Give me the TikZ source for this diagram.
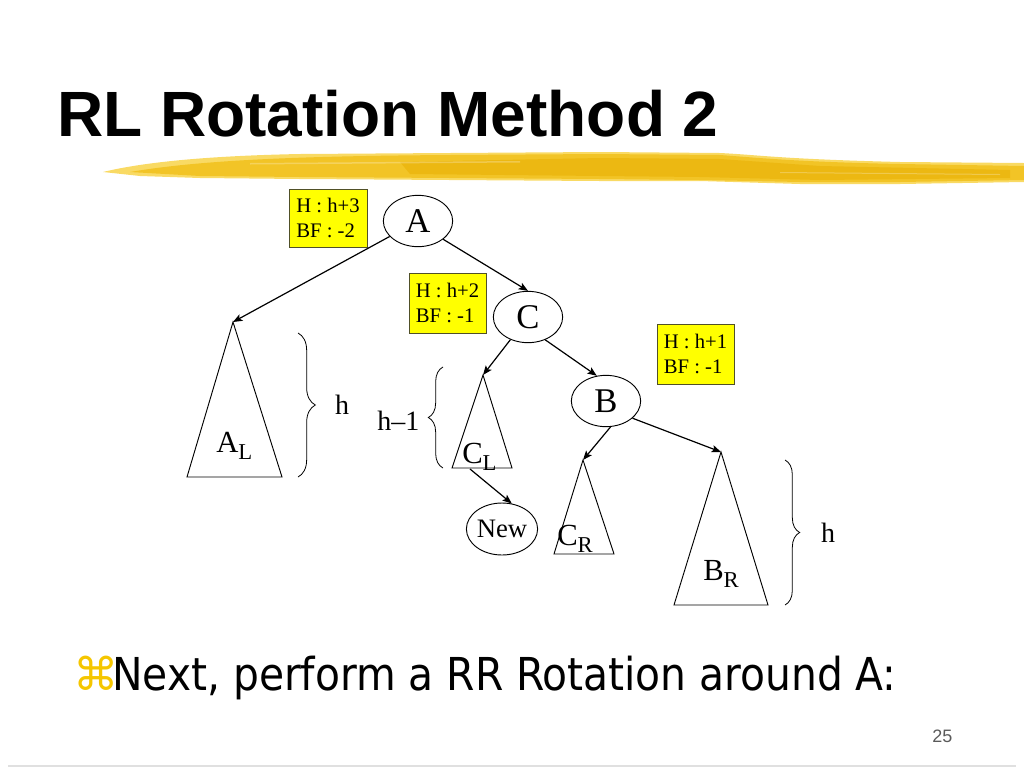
\documentclass[tikz,border=0pt]{standalone}
\usepackage{fontspec}
\setmainfont{Liberation Serif}
\newfontfamily\titlefont{Liberation Sans}
\newfontfamily\bodyfont{DejaVu Sans Condensed}
\newfontfamily\symfont{DejaVu Sans}
\usetikzlibrary{shapes.geometric,arrows.meta,decorations.pathreplacing}
\definecolor{boxyellow}{RGB}{255,255,0}
\definecolor{boxline}{RGB}{80,80,40}
\definecolor{brushA}{RGB}{242,196,38}
\definecolor{brushB}{RGB}{249,218,100}
\definecolor{brushC}{RGB}{236,184,18}
\definecolor{cmdcol}{RGB}{245,198,0}
\definecolor{pagegray}{RGB}{90,90,90}
\newcommand{\tsub}[2]{#1\raisebox{-5.5pt}{\fontsize{17}{20}\selectfont #2}}
\tikzset{
  treenode/.style={ellipse,draw,line width=0.7pt,inner sep=0pt,minimum width=52pt,minimum height=38.5pt,font=\fontsize{26}{30}\selectfont},
  infobox/.style={rectangle,draw=boxline,fill=boxyellow,line width=0.6pt,align=left,inner sep=0pt,font=\fontsize{15.5}{18.5}\selectfont},
  subtree/.style={draw,line width=0.7pt,line join=miter},
  edge/.style={draw,line width=0.9pt,-{Stealth[length=7pt,width=5.5pt,inset=1.5pt]}},
  tlabel/.style={anchor=base west,inner sep=0pt,font=\fontsize{23}{26}\selectfont},
  hlabel/.style={inner sep=0pt,font=\fontsize{21}{24}\selectfont},
  bracestyle/.style={draw,line width=0.6pt,decorate},
}
\begin{document}
\begin{tikzpicture}[x=0.75pt,y=-0.75pt]
\useasboundingbox (0,0) rectangle (1024,768);
% brush stroke
\fill[brushB] (103,172) .. controls (140,163) and (200,156) .. (300,154) -- (450,153) -- (600,152) -- (720,153) .. controls (760,155) and (780,159) .. (900,162) -- (1024,163) -- (1024,182) -- (900,184) -- (800,184) -- (700,181) -- (600,181) -- (450,180) -- (300,179) -- (200,178) -- (140,176) -- cycle;
\fill[brushA] (130,172) .. controls (200,160) and (300,156) .. (450,155) -- (600,154) -- (720,155) .. controls (760,158) and (800,162) .. (900,164) -- (1024,166) -- (1024,180) -- (900,182) -- (800,182) -- (700,180) -- (600,179) -- (450,178) -- (300,177) -- (200,176) -- cycle;
\fill[brushC] (400,162) -- (600,158) -- (720,159) -- (820,166) -- (1010,170) -- (1010,178) -- (820,180) -- (700,177) -- (600,176) -- (410,174) -- cycle;
\fill[white,opacity=0.25] (250,163) -- (520,161) -- (520,162.5) -- (250,164.5) -- cycle;
\fill[white,opacity=0.25] (780,172) -- (1000,174) -- (1000,175) -- (780,173) -- cycle;
% title
\node[anchor=base west,inner sep=0pt] (title) at (57,136) {\titlefont\bfseries\fontsize{48}{56}\selectfont RL Rotation Method 2};
% info boxes
\node[infobox,minimum width=58.5pt,minimum height=43.5pt] (box1) at (328,218) {H : h+3\\BF : -2};
\node[infobox,minimum width=57.75pt,minimum height=45pt] (box2) at (447.5,303) {H : h+2\\BF : -1};
\node[infobox,minimum width=57.75pt,minimum height=45pt] (box3) at (695.5,354) {H : h+1\\BF : -1};
% tree nodes
\node[treenode] (A) at (418,221) {A};
\node[treenode] (C) at (528,317) {C};
\node[treenode] (B) at (606,401) {B};
\node[treenode,minimum width=51pt,minimum height=39pt,font=\fontsize{20}{24}\selectfont] (New) at (502,529) {New};
% subtrees
\coordinate (ALtop) at (233,322);
\coordinate (CLtop) at (483,375);
\coordinate (CLbot) at (470,469);
\coordinate (CRtop) at (583,460);
\coordinate (BRtop) at (721,452);
\path[subtree] (ALtop) -- (282,477) -- (187,477) -- cycle;
\path[subtree] (CLtop) -- (512,468) -- (452,468) -- cycle;
\path[subtree] (CRtop) -- (614,554) -- (554,554) -- cycle;
\path[subtree] (BRtop) -- (768,605) -- (674,605) -- cycle;
\node[tlabel] (AL) at (216,452) {\tsub{A}{L}};
\node[tlabel] (CL) at (462,463) {\tsub{C}{L}};
\node[tlabel] (CR) at (557,545) {\tsub{C}{R}};
\node[tlabel] (BR) at (703,580) {\tsub{B}{R}};
% edges
\path[edge] (A) -- (ALtop);
\path[edge] (A.-36) -- (C.north);
\path[edge] (C) -- (CLtop);
\path[edge] (CLbot) -- (New.69);
\path[edge] (C.-53) -- (B.110);
\path[edge] (B.-80) -- (CRtop);
\path[edge] (B.-33) -- (BRtop);
% braces
\path[bracestyle,decoration={brace,amplitude=13pt}] (298,333) -- (298,477);
\path[bracestyle,decoration={brace,amplitude=11pt}] (443,468) -- (443,367);
\path[bracestyle,decoration={brace,amplitude=11pt}] (785,460) -- (785,605);
\node[hlabel,anchor=base] (h1) at (342,414) {h};
\node[hlabel,anchor=base west] (h2) at (377,430) {h–1};
\node[hlabel,anchor=base] (h3) at (828,542) {h};
% bottom text
\node[anchor=base west,inner sep=0pt,text=cmdcol] (cmd) at (73,690) {\symfont\fontsize{34}{40}\selectfont ⌘};
\node[anchor=base west,inner sep=0pt] (next) at (112,690) {\bodyfont\fontsize{34}{40}\selectfont Next, perform a RR Rotation around A:};
\node[anchor=base west,inner sep=0pt,text=pagegray] (page) at (932,742) {\titlefont\fontsize{13.5}{16}\selectfont 25};
\draw[black!12,line width=1.2pt] (8,766) -- (1016,766);
\end{tikzpicture}
\end{document}
